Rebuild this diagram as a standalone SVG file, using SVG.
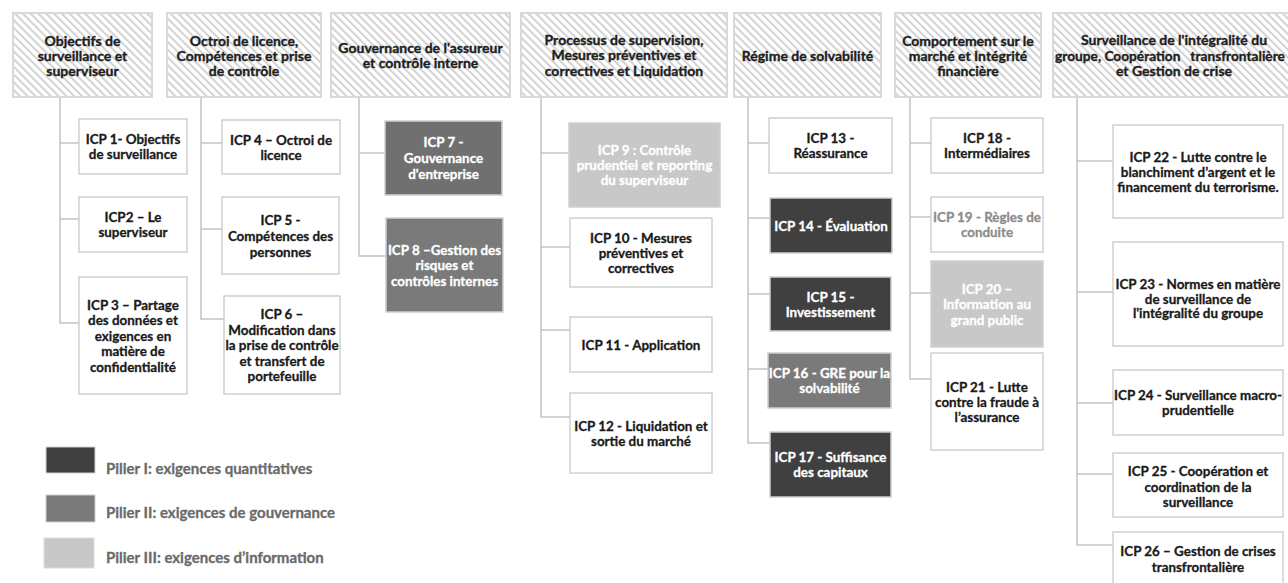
<svg xmlns="http://www.w3.org/2000/svg" width="1288" height="583" viewBox="0 0 1288 583">
<defs>
<pattern id="hatch" width="5.5" height="5.5" patternUnits="userSpaceOnUse" patternTransform="rotate(-45)">
<rect width="5.5" height="5.5" fill="#ffffff"/>
<line x1="1" y1="0" x2="1" y2="5.5" stroke="#d2d2d2" stroke-width="2"/>
</pattern>
</defs>
<style>
.hdr rect{fill:url(#hatch);stroke:#d9d9d9;stroke-width:2}
.hdr text{font-family:Lato,"Liberation Sans",sans-serif;font-weight:bold;font-size:14px;fill:#1e1e1e;stroke:#1e1e1e;stroke-width:0.35px;text-anchor:middle;dominant-baseline:central}
.n rect{stroke:#d0d0d0;stroke-width:1.5;fill:#ffffff}
.n text{font-family:Lato,"Liberation Sans",sans-serif;font-weight:bold;font-size:13.4px;fill:#1a1a1a;stroke:#1a1a1a;stroke-width:0.3px;text-anchor:middle;dominant-baseline:central}
.n.p1 rect{fill:#404040}
.n.p2 rect{fill:#7a7a7a}
.n.p3 rect{fill:#c8c8c8}
.n.p1 text,.n.p2 text,.n.p3 text{fill:#ffffff;stroke:#ffffff}
.n.gr text{fill:#8c8c8c;stroke:#8c8c8c}
.conn path{fill:none;stroke:#c4c4c4;stroke-width:1.5}
.leg text{font-family:Lato,"Liberation Sans",sans-serif;font-weight:bold;font-size:15px;fill:#6a6a6a;stroke:#6a6a6a;stroke-width:0.3px;dominant-baseline:central}
</style>
<rect width="1288" height="583" fill="#ffffff"/>

<g class="conn" id="connectors">
<path d="M60 97V323H79M60 143H79M60 219H79"/>
<path d="M201 97V319H224M201 143H222M201 229H222"/>
<path d="M359 97V256H386M359 153H385"/>
<path d="M541 97V417H570M541 153H569M541 247H570M541 330H570"/>
<path d="M748 97V443H770M748 143H769M748 218H770M748 294H770M748 369H768"/>
<path d="M910 97V379H931M910 143H931M910 217H931M910 293H931"/>
<path d="M1077 97V545H1113M1077 161H1113M1077 292H1113M1077 403H1113M1077 474H1113"/>
</g>

<g class="hdr" id="h1"><rect x="13" y="13" width="139" height="84"/><text x="82.5" y="40">Objectifs de</text><text x="82.5" y="55">surveillance et</text><text x="82.5" y="70">superviseur</text></g>
<g class="hdr" id="h2"><rect x="167" y="13" width="154" height="84"/><text x="244" y="40">Octroi de licence,</text><text x="244" y="55">Compétences et prise</text><text x="244" y="70">de contrôle</text></g>
<g class="hdr" id="h3"><rect x="331" y="13" width="179" height="84"/><text x="420.5" y="47.5">Gouvernance de l'assureur</text><text x="420.5" y="62.5">et contrôle interne</text></g>
<g class="hdr" id="h4"><rect x="521" y="13" width="206" height="84"/><text x="624" y="39">Processus de supervision,</text><text x="624" y="54.5">Mesures préventives et</text><text x="624" y="70">correctives et Liquidation</text></g>
<g class="hdr" id="h5"><rect x="734" y="13" width="147" height="84"/><text x="807.5" y="55">Régime de solvabilité</text></g>
<g class="hdr" id="h6"><rect x="895" y="13" width="146" height="84"/><text x="968" y="40">Comportement sur le</text><text x="968" y="55">marché et Intégrité</text><text x="968" y="70">financière</text></g>
<g class="hdr" id="h7"><rect x="1053" y="13" width="242" height="84"/><text x="1174" y="39.5">Surveillance de l'intégralité du</text><text x="1170" y="55" style="white-space:pre;font-size:13.7px">groupe, Coopération   transfrontalière</text><text x="1174" y="70">et Gestion de crise</text></g>

<g class="n" id="icp1"><rect x="79" y="119" width="108" height="55"/><text x="133" y="139">ICP 1- Objectifs</text><text x="133" y="154">de surveillance</text></g>
<g class="n" id="icp2"><rect x="79" y="197" width="108" height="55"/><text x="133" y="217">ICP2 – Le</text><text x="133" y="232">superviseur</text></g>
<g class="n" id="icp3"><rect x="79" y="277" width="108" height="117"/><text x="133" y="304.5">ICP 3 – Partage</text><text x="133" y="320">des données et</text><text x="133" y="335.5">exigences en</text><text x="133" y="351">matière de</text><text x="133" y="366.5">confidentialité</text></g>

<g class="n" id="icp4"><rect x="222" y="120" width="118" height="54"/><text x="281" y="139.5">ICP 4 – Octroi de</text><text x="281" y="154.5">licence</text></g>
<g class="n" id="icp5"><rect x="222" y="197" width="117" height="77"/><text x="280.5" y="219.5">ICP 5 -</text><text x="280.5" y="235.5">Compétences des</text><text x="280.5" y="251.5">personnes</text></g>
<g class="n" id="icp6"><rect x="224" y="296" width="116" height="98"/><text x="282" y="314">ICP 6 –</text><text x="282" y="329.5">Modification dans</text><text x="282" y="345">la prise de contrôle</text><text x="282" y="360.5">et transfert de</text><text x="282" y="376">portefeuille</text></g>

<g class="n p2" id="icp7"><rect x="385" y="121" width="117" height="74" style="fill:#707070"/><text x="443.5" y="142">ICP 7 -</text><text x="443.5" y="158">Gouvernance</text><text x="443.5" y="174">d'entreprise</text></g>
<g class="n p2" id="icp8"><rect x="386" y="218" width="117" height="94"/><text x="444.5" y="249.5">ICP 8 –Gestion des</text><text x="444.5" y="265">risques et</text><text x="444.5" y="280.5">contrôles internes</text></g>

<g class="n p3" id="icp9"><rect x="569" y="123" width="151" height="84"/><text x="644.5" y="150">ICP 9 : Contrôle</text><text x="644.5" y="165">prudentiel et reporting</text><text x="644.5" y="180">du superviseur</text></g>
<g class="n" id="icp10"><rect x="570" y="218" width="142" height="69"/><text x="641" y="237.5">ICP 10 - Mesures</text><text x="641" y="252.5">préventives et</text><text x="641" y="267.5">correctives</text></g>
<g class="n" id="icp11"><rect x="570" y="317" width="142" height="55"/><text x="641" y="344.5">ICP 11 - Application</text></g>
<g class="n" id="icp12"><rect x="570" y="393" width="142" height="80"/><text x="641" y="425.5">ICP 12 - Liquidation et</text><text x="641" y="440.5">sortie du marché</text></g>

<g class="n" id="icp13"><rect x="769" y="118" width="123" height="55"/><text x="830.5" y="138">ICP 13 -</text><text x="830.5" y="153">Réassurance</text></g>
<g class="n p1" id="icp14"><rect x="770" y="198" width="122" height="55"/><text x="831" y="225.5">ICP 14 - Évaluation</text></g>
<g class="n p1" id="icp15"><rect x="770" y="277" width="121" height="54"/><text x="830.5" y="296.5">ICP 15 -</text><text x="830.5" y="311.5">Investissement</text></g>
<g class="n p2" id="icp16"><rect x="768" y="353" width="123" height="55"/><text x="829.5" y="373">ICP 16 - GRE pour la</text><text x="829.5" y="388">solvabilité</text></g>
<g class="n p1" id="icp17"><rect x="770" y="432" width="121" height="65"/><text x="830.5" y="457">ICP 17 - Suffisance</text><text x="830.5" y="472">des capitaux</text></g>

<g class="n" id="icp18"><rect x="931" y="118" width="112" height="55"/><text x="987" y="138">ICP 18 -</text><text x="987" y="153">Intermédiaires</text></g>
<g class="n gr" id="icp19"><rect x="931" y="197" width="112" height="55"/><text x="987" y="217">ICP 19 - Règles de</text><text x="987" y="232">conduite</text></g>
<g class="n p3" id="icp20"><rect x="931" y="261" width="112" height="86"/><text x="987" y="288.5">ICP 20 –</text><text x="987" y="304">Information au</text><text x="987" y="319.5">grand public</text></g>
<g class="n" id="icp21"><rect x="931" y="353" width="112" height="97"/><text x="987" y="386.5">ICP 21 - Lutte</text><text x="987" y="401.5">contre la fraude à</text><text x="987" y="416.5">l’assurance</text></g>

<g class="n" id="icp22"><rect x="1113" y="125" width="170" height="93"/><text x="1198" y="157">ICP 22 - Lutte contre le</text><text x="1198" y="172">blanchiment d’argent et le</text><text x="1198" y="187">financement du terrorisme.</text></g>
<g class="n" id="icp23"><rect x="1113" y="242" width="170" height="104"/><text x="1198" y="284">ICP 23 - Normes en matière</text><text x="1198" y="298.5">de surveillance de</text><text x="1198" y="313">l'intégralité du groupe</text></g>
<g class="n" id="icp24"><rect x="1113" y="370" width="170" height="65"/><text x="1198" y="395">ICP 24 - Surveillance macro-</text><text x="1198" y="410">prudentielle</text></g>
<g class="n" id="icp25"><rect x="1113" y="453" width="170" height="64"/><text x="1198" y="471">ICP 25 - Coopération et</text><text x="1198" y="486.5">coordination de la</text><text x="1198" y="502">surveillance</text></g>
<g class="n" id="icp26"><rect x="1113" y="532" width="170" height="62"/><text x="1198" y="551">ICP 26 – Gestion de crises</text><text x="1198" y="567">transfrontalière</text></g>

<g class="leg" id="legend">
<rect x="46" y="447" width="49" height="26" fill="#404040" stroke="#d0d0d0" stroke-width="1"/>
<text x="106" y="468">Pilier I: exigences quantitatives</text>
<rect x="46" y="495" width="49" height="27" fill="#7a7a7a" stroke="#d0d0d0" stroke-width="1"/>
<text x="106" y="512">Pilier II: exigences de gouvernance</text>
<rect x="44" y="538" width="50" height="30" fill="#c8c8c8" stroke="#dcdcdc" stroke-width="1"/>
<text x="106" y="557">Pilier III: exigences d’information</text>
</g>
</svg>
